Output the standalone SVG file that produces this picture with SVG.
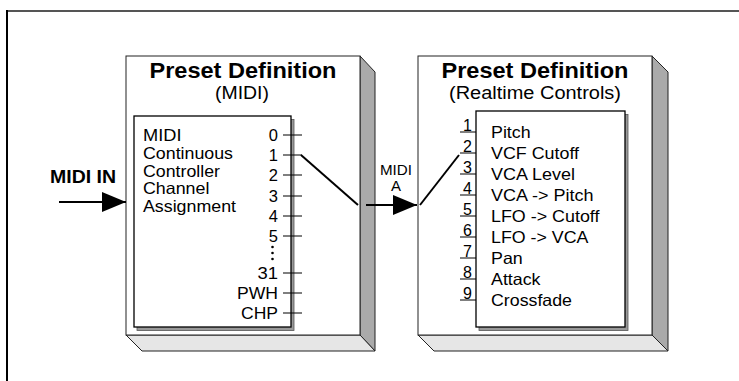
<svg xmlns="http://www.w3.org/2000/svg" width="739" height="381" viewBox="0 0 739 381">
<defs>
<style>
text{font-family:"Liberation Sans",Arial,Helvetica,sans-serif;fill:#000}
.title{font-size:21.5px;font-weight:bold;text-anchor:middle}
.sub{font-size:17.5px;text-anchor:middle}
.lbl{font-size:16.5px}
.num{font-size:16.5px;text-anchor:end}
.rnum{font-size:16px;text-anchor:middle}
.front{fill:#fff;stroke:#222;stroke-width:1}
.side{fill:#aaa;stroke:#222;stroke-width:1}
.bottom{fill:#e6e6e6;stroke:#222;stroke-width:1}
.panel{fill:#fff;stroke:#000;stroke-width:1.3}
.shadow{fill:#999;stroke:#555;stroke-width:0.8}
.tick{stroke:#000;stroke-width:1.2;fill:none}
.wire{stroke:#000;stroke-width:2;fill:none}
</style>
<marker id="ah" viewBox="0 0 24 20" refX="24" refY="10" markerWidth="24" markerHeight="20" markerUnits="userSpaceOnUse" orient="auto">
<path d="M0,0 L24,10 L0,20 Z" fill="#000"/>
</marker>
</defs>
<rect width="739" height="381" fill="#fff"/>
<g id="frame">
<line x1="6" y1="11" x2="739" y2="11" stroke="#555" stroke-width="2"/>
<line x1="7" y1="10" x2="7" y2="381" stroke="#000" stroke-width="2"/>
</g>
<g id="node-midi">
<polygon class="side" points="360,56 375,72 375,351 360,335"/>
<polygon class="bottom" points="126,335 360,335 375,351 142,351"/>
<rect class="front" x="126" y="56" width="234" height="279"/>
<text class="title" x="243" y="78" textLength="187" lengthAdjust="spacingAndGlyphs">Preset Definition</text>
<text class="sub" x="242" y="98.5" textLength="54" lengthAdjust="spacingAndGlyphs">(MIDI)</text>
<rect class="shadow" x="137" y="119.5" width="157" height="211"/>
<rect class="panel" x="134" y="116" width="157" height="211"/>
<text class="lbl" x="143" y="141" textLength="38.5" lengthAdjust="spacingAndGlyphs">MIDI</text>
<text class="lbl" x="143" y="159" textLength="90" lengthAdjust="spacingAndGlyphs">Continuous</text>
<text class="lbl" x="143" y="177" textLength="77" lengthAdjust="spacingAndGlyphs">Controller</text>
<text class="lbl" x="143" y="194" textLength="66.4" lengthAdjust="spacingAndGlyphs">Channel</text>
<text class="lbl" x="143" y="212" textLength="93" lengthAdjust="spacingAndGlyphs">Assignment</text>
<text class="num" x="278" y="141">0</text>
<text class="num" x="278" y="161">1</text>
<text class="num" x="278" y="181">2</text>
<text class="num" x="278" y="202">3</text>
<text class="num" x="278" y="222">4</text>
<text class="num" x="278" y="242">5</text>
<circle cx="272.5" cy="247" r="1.3"/>
<circle cx="272.5" cy="253" r="1.3"/>
<circle cx="272.5" cy="259" r="1.3"/>
<text class="num" x="278" y="279" textLength="20.5" lengthAdjust="spacingAndGlyphs">31</text>
<text class="num" x="278" y="299" textLength="41" lengthAdjust="spacingAndGlyphs">PWH</text>
<text class="num" x="278" y="319" textLength="37" lengthAdjust="spacingAndGlyphs">CHP</text>
<path class="tick" d="M283,135H302M283,155H302M283,175H302M283,196H302M283,216H302M283,236H302M283,273H302M283,293H302M283,313H302"/>
</g>
<g id="node-realtime">
<polygon class="side" points="652,56 668,72 668,351 652,335"/>
<polygon class="bottom" points="418,335 652,335 668,351 434,351"/>
<rect class="front" x="418" y="56" width="234" height="279"/>
<text class="title" x="535" y="78" textLength="187" lengthAdjust="spacingAndGlyphs">Preset Definition</text>
<text class="sub" x="535" y="98.5" textLength="172" lengthAdjust="spacingAndGlyphs">(Realtime Controls)</text>
<rect class="shadow" x="479" y="114.5" width="149" height="216"/>
<rect class="panel" x="476" y="111" width="149" height="216"/>
<path class="tick" d="M460,132H476M460,153H476M460,174H476M460,195H476M460,216H476M460,237H476M460,258H476M460,279H476M460,300H476"/>
<text class="rnum" x="467.5" y="130.5">1</text>
<text class="rnum" x="467.5" y="151.5">2</text>
<text class="rnum" x="467.5" y="172.5">3</text>
<text class="rnum" x="467.5" y="193.5">4</text>
<text class="rnum" x="467.5" y="214.5">5</text>
<text class="rnum" x="467.5" y="235.5">6</text>
<text class="rnum" x="467.5" y="256.5">7</text>
<text class="rnum" x="467.5" y="277.5">8</text>
<text class="rnum" x="467.5" y="298.5">9</text>
<text class="lbl" x="491" y="138" textLength="39.6" lengthAdjust="spacingAndGlyphs">Pitch</text>
<text class="lbl" x="491" y="159" textLength="88" lengthAdjust="spacingAndGlyphs">VCF Cutoff</text>
<text class="lbl" x="491" y="180" textLength="84" lengthAdjust="spacingAndGlyphs">VCA Level</text>
<text class="lbl" x="491" y="201" textLength="102.5" lengthAdjust="spacingAndGlyphs">VCA -&gt; Pitch</text>
<text class="lbl" x="491" y="222" textLength="108.5" lengthAdjust="spacingAndGlyphs">LFO -&gt; Cutoff</text>
<text class="lbl" x="491" y="243" textLength="97.5" lengthAdjust="spacingAndGlyphs">LFO -&gt; VCA</text>
<text class="lbl" x="491" y="264" textLength="31.7" lengthAdjust="spacingAndGlyphs">Pan</text>
<text class="lbl" x="491" y="285" textLength="49.5" lengthAdjust="spacingAndGlyphs">Attack</text>
<text class="lbl" x="491" y="306" textLength="81" lengthAdjust="spacingAndGlyphs">Crossfade</text>
</g>
<g id="connectors">
<line class="wire" x1="59" y1="202" x2="126" y2="202" marker-end="url(#ah)"/>
<text x="50" y="183" textLength="66" lengthAdjust="spacingAndGlyphs" style="font-size:18px;font-weight:bold">MIDI IN</text>
<polyline class="wire" points="301,155 358,205"/>
<line class="wire" x1="366" y1="205" x2="417" y2="205" marker-end="url(#ah)"/>
<polyline class="wire" points="420,205 459,155"/>
<text x="396" y="175" textLength="32" lengthAdjust="spacingAndGlyphs" style="font-size:15px;text-anchor:middle">MIDI</text>
<text x="396" y="191" style="font-size:15px;text-anchor:middle">A</text>
</g>
</svg>
